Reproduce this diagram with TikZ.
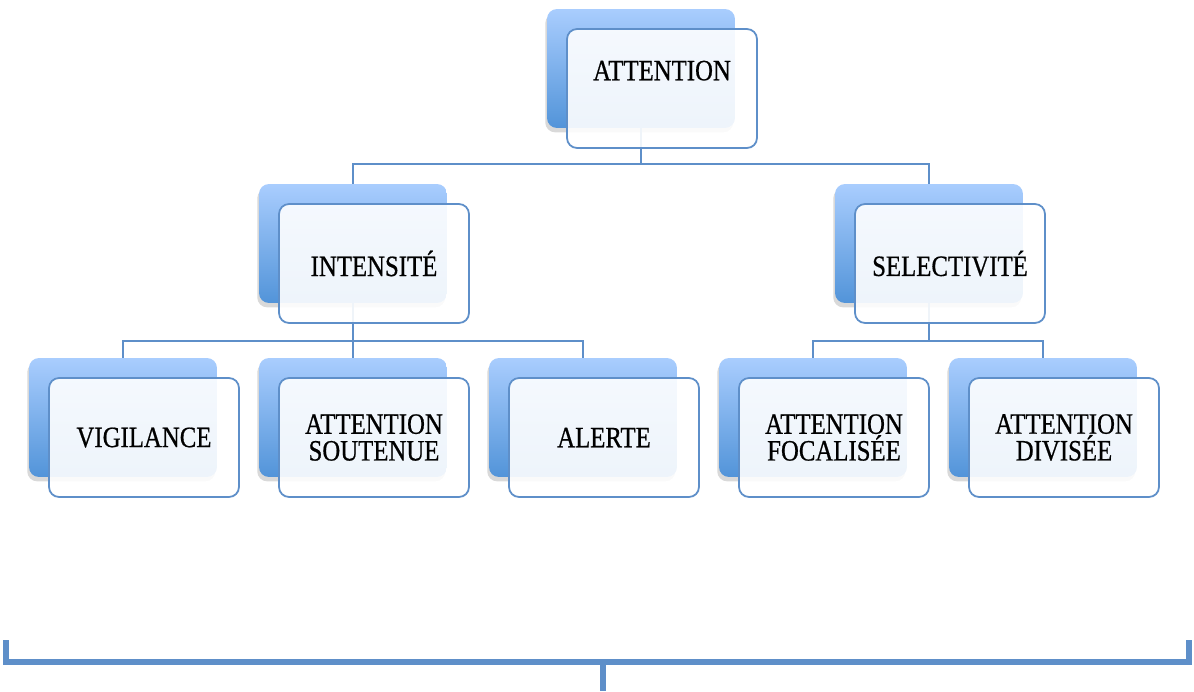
\documentclass[tikz,border=0pt]{standalone}
\usepackage{fontspec}
\setmainfont{Liberation Serif}[FakeStretch=0.84,FakeBold=0.6]
\usetikzlibrary{shadows}

\definecolor{boxtop}{HTML}{A9CDFE}
\definecolor{boxbot}{HTML}{5294D9}
\definecolor{boxline}{HTML}{5E8FC9}

\tikzset{
  backbox/.style={rounded corners=0.2cm, minimum width=3.76cm, minimum height=2.38cm,
    top color=boxtop, bottom color=boxbot, inner sep=0pt,
    drop shadow={shadow xshift=-1pt, shadow yshift=-2.5pt, opacity=0.15, fill=black}},
  frontbox/.style={rounded corners=0.2cm, minimum width=3.8cm, minimum height=2.38cm,
    draw=boxline, line width=1pt, fill=white, fill opacity=0.9, text opacity=1,
    align=center, inner sep=0pt, font=\fontsize{16.8}{15.2}\selectfont},
  link/.style={draw=boxline, line width=1pt},
  bracket/.style={draw=boxline, line width=3pt}
}

\begin{document}
\begin{tikzpicture}[x=0.02cm,y=0.02cm]
\useasboundingbox (0,0) rectangle (1194,-691);

% Back boxes (blue cards)
\foreach \n/\x/\y in {att/641/-68.5, int/353/-243.5, sel/929/-243.5,
  vig/123/-417.5, sou/353/-417.5, ale/583/-417.5, foc/813/-417.5, div/1043/-417.5} {
  \node[backbox] (\n-b) at (\x,\y) {};
}

% Tree connectors
\draw[link] (att-b.south) -- ++(0,-36) -| (int-b.north);
\draw[link] (att-b.south) -- ++(0,-36) -| (sel-b.north);
\foreach \c in {vig,sou,ale} {
  \draw[link] (int-b.south) -- ++(0,-38) -| (\c-b.north);
}
\foreach \c in {foc,div} {
  \draw[link] (sel-b.south) -- ++(0,-38) -| (\c-b.north);
}

% Front boxes with labels
\foreach \n/\t in {att/{\raisebox{0.72cm}{ATTENTION}}, int/INTENSITÉ, sel/SELECTIVITÉ,
  vig/VIGILANCE, sou/{ATTENTION\\SOUTENUE}, ale/ALERTE,
  foc/{ATTENTION\\FOCALISÉE}, div/{ATTENTION\\DIVISÉE}} {
  \node[frontbox] (\n-f) at ([shift={(21,-20)}]\n-b) {\t};
}

% Bottom bracket
\draw[bracket] (6,-640) -- (6,-662) -- (1189,-662) -- (1189,-640);
\draw[bracket] (603,-662) -- (603,-691);
\end{tikzpicture}
\end{document}
